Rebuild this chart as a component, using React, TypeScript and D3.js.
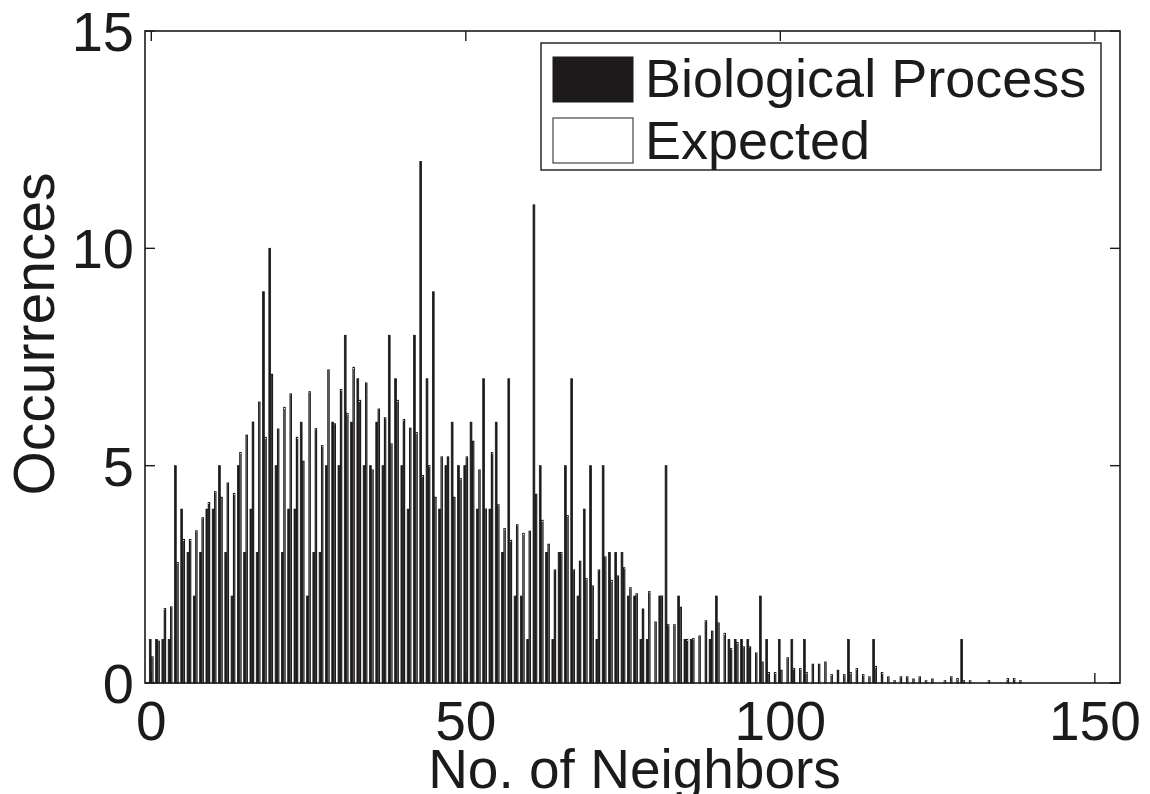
import React from "react";
import * as d3 from "d3";

// Number of neighbors 0..153
const bioProcess: number[] = [
  1, 1, 1, 1, 5, 4, 3, 2, 3, 4, 4, 5, 3, 2, 5, 3, 4, 3, 9, 10,
  5, 3, 4, 4, 6, 2, 3, 3, 5, 6, 5, 8, 6, 7, 5, 5, 6, 5, 8, 7,
  5, 4, 8, 12, 7, 9, 4, 5, 6, 5, 5, 6, 4, 7, 4, 6, 3, 7, 2, 2,
  1, 11, 5, 3, 1, 3, 5, 7, 2, 4, 5, 1, 5, 3, 3, 3, 2, 2, 1, 1,
  0, 2, 5, 0, 2, 1, 1, 0, 0, 1, 2, 0, 1, 1, 1, 1, 0, 2, 1, 0,
  1, 0, 1, 0, 1, 0, 0, 0, 0, 0, 0, 1, 0, 0, 0, 1, 0, 0, 0, 0,
  0, 0, 0, 0, 0, 0, 0, 0, 0, 1, 0, 0, 0, 0, 0, 0, 0, 0, 0, 0,
  0, 0, 0, 0, 0, 0, 0, 0, 0, 0, 0, 0, 0, 0,
];

const expected: number[] = [
  0.6, 0.96, 1.71, 1.75, 2.77, 3.3, 3.3, 3.5, 3.8, 4.15, 4.4, 4.27, 4.6, 4.36, 5.3, 5.7, 6.0, 6.46, 5.65, 7.1,
  5.84, 6.34, 6.65, 5.65, 5.1, 6.7, 5.85, 5.46, 7.2, 5.96, 6.75, 6.2, 7.26, 6.5, 6.9, 4.9, 6.3, 6.1, 5.5, 6.5,
  6.06, 5.86, 5.76, 4.77, 5.0, 4.27, 5.2, 5.2, 4.27, 4.7, 5.2, 5.56, 4.9, 4.0, 5.3, 4.1, 3.55, 3.28, 3.64, 3.44,
  3.49, 4.34, 3.74, 3.19, 2.6, 3.0, 3.85, 2.6, 2.8, 2.4, 2.23, 2.6, 2.9, 2.36, 2.46, 2.65, 2.19, 2.05, 1.7, 2.1,
  1.4, 2.0, 1.34, 1.34, 1.74, 1.0, 1.02, 1.08, 1.43, 1.19, 1.38, 1.14, 0.79, 0.93, 0.83, 0.83, 0.69, 0.48, 0.24, 0.24,
  0.29, 0.58, 0.33, 0.33, 0.24, 0.43, 0.43, 0.48, 0.19, 0.29, 0.19, 0.24, 0.33, 0.19, 0.14, 0.38, 0.24, 0.14, 0.05, 0.14,
  0.14, 0.09, 0.14, 0.05, 0.09, 0, 0.05, 0.14, 0.1, 0.05, 0.05, 0, 0, 0.05, 0, 0, 0.1, 0.1, 0.05, 0,
  0, 0, 0, 0, 0, 0, 0, 0, 0, 0, 0, 0, 0, 0,
];

const xTicks: number[] = [0, 50, 100, 150];
const yTicks: number[] = [0, 5, 10, 15];
const seriesNames: string[] = ["Biological Process", "Expected"];
const xTitle = "No. of Neighbors";
const yTitle = "Occurrences";

const W = 1150;
const H = 794;
const M = { left: 145, right: 1120, top: 31, bottom: 683 };
const FONT = "'Liberation Sans', Arial, Helvetica, sans-serif";
const INK = "#1c1a1b";

export default function App() {
  const x = d3.scaleLinear().domain([-1, 154]).range([M.left, M.right]);
  const y = d3.scaleLinear().domain([0, 15]).range([M.bottom, M.top]);
  const unit = x(1) - x(0);
  const bwB = 0.28 * unit;
  const bwE = 0.2 * unit;
  const off = 0.17 * unit;
  const tickLen = 10;

  return (
    <svg
      width={W}
      height={H}
      style={{ position: "absolute", left: 0, top: 0, background: "#fff" }}
      fontFamily={FONT}
    >
      <rect x={0} y={0} width={W} height={H} fill="#fff" />
      {/* bars */}
      <g>
        {bioProcess.map((v, i) =>
          v > 0 ? (
            <rect
              key={"b" + i}
              x={x(i) - off - bwB / 2}
              y={y(v)}
              width={bwB}
              height={y(0) - y(v)}
              fill={INK}
              stroke={INK}
              strokeWidth={0.8}
            />
          ) : null
        )}
        {expected.map((v, i) =>
          v > 0 ? (
            <rect
              key={"e" + i}
              x={x(i) + off - bwE / 2}
              y={y(v)}
              width={bwE}
              height={y(0) - y(v)}
              fill="#fff"
              stroke={INK}
              strokeWidth={1.2}
            />
          ) : null
        )}
      </g>
      {/* axes box */}
      <rect
        x={M.left}
        y={M.top}
        width={M.right - M.left}
        height={M.bottom - M.top}
        fill="none"
        stroke={INK}
        strokeWidth={1.6}
      />
      {/* x ticks */}
      {xTicks.map((t) => (
        <g key={"xt" + t}>
          <line x1={x(t)} x2={x(t)} y1={M.bottom} y2={M.bottom - tickLen} stroke={INK} strokeWidth={1.4} />
          <line x1={x(t)} x2={x(t)} y1={M.top} y2={M.top + tickLen} stroke={INK} strokeWidth={1.4} />
          <text x={x(t)} y={740} textAnchor="middle" fontSize={55} fill={INK}>
            {t}
          </text>
        </g>
      ))}
      {/* y ticks */}
      {yTicks.map((t) => (
        <g key={"yt" + t}>
          <line x1={M.left} x2={M.left + tickLen} y1={y(t)} y2={y(t)} stroke={INK} strokeWidth={1.4} />
          <line x1={M.right} x2={M.right - tickLen} y1={y(t)} y2={y(t)} stroke={INK} strokeWidth={1.4} />
          <text x={134} y={y(t) + 20} textAnchor="end" fontSize={56} fill={INK}>
            {t}
          </text>
        </g>
      ))}
      {/* titles */}
      <text x={(M.left + M.right) / 2 + 2} y={788} textAnchor="middle" fontSize={55} fill={INK}>
        {xTitle}
      </text>
      <text
        transform={`translate(54, ${334}) rotate(-90)`}
        textAnchor="middle"
        fontSize={57}
        fill={INK}
      >
        {yTitle}
      </text>
      {/* legend */}
      <g>
        <rect x={541} y={43} width={560} height={127} fill="#fff" stroke={INK} strokeWidth={1.4} />
        <rect x={553} y={57} width={80} height={45} fill={INK} stroke={INK} strokeWidth={1} />
        <rect x={553} y={118} width={80} height={45} fill="#fff" stroke="#444" strokeWidth={1.2} />
        <text x={645} y={97} fontSize={54} fill={INK}>
          {seriesNames[0]}
        </text>
        <text x={645} y={159} fontSize={54} fill={INK}>
          {seriesNames[1]}
        </text>
      </g>
    </svg>
  );
}
